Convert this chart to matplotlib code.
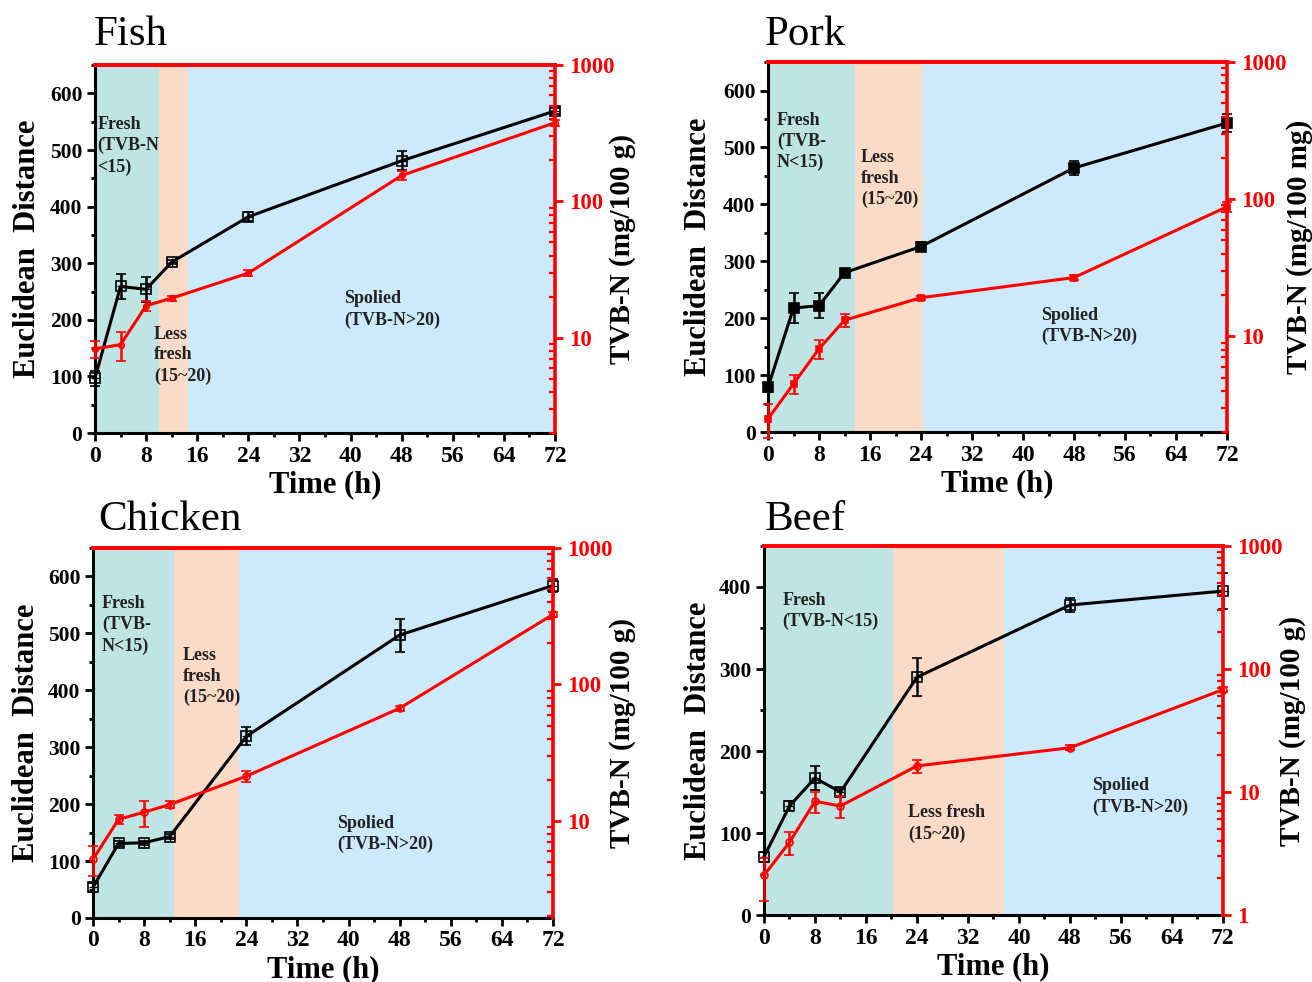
import matplotlib
matplotlib.use("Agg")
import matplotlib.pyplot as plt
from matplotlib.ticker import MultipleLocator, LogLocator, FuncFormatter, NullFormatter

plt.rcParams['font.family'] = ['Liberation Serif', 'DejaVu Serif']

# ---------------- data ----------------
time = [0, 4, 8, 12, 24, 48, 72]

fish_ed = [97, 259, 254, 302, 382, 481, 569]
fish_ed_err = [13, 22, 22, 4, 8, 17, 6]
fish_tvbn = [8.3, 8.9, 17.2, 19.5, 29.8, 155, 378]
fish_tvbn_err = [1.2, 2.2, 1.5, 0.8, 1.5, 12, 20]

pork_ed = [79, 218, 222, 280, 326, 464, 543]
pork_ed_err = [8, 27, 22, 5, 8, 12, 15]
pork_tvbn = [2.5, 4.5, 8.1, 13.1, 19.1, 26.8, 88]
pork_tvbn_err = [0.7, 0.7, 1.3, 1.5, 0.6, 1.0, 8]

chicken_ed = [54, 131, 132, 143, 319, 497, 584]
chicken_ed_err = [8, 5, 4, 5, 16, 29, 12]
chicken_tvbn = [5.25, 10.3, 11.6, 13.2, 21.3, 67, 326]
chicken_tvbn_err = [1.3, 0.8, 2.5, 0.8, 2.0, 3.0, 15]

beef_ed = [71, 133, 167, 150, 290, 378, 395]
beef_ed_err = [6, 6, 15, 5, 23, 8, 22]
beef_tvbn = [2.1, 3.9, 8.4, 7.7, 16.3, 22.9, 68]
beef_tvbn_err = [0.8, 0.8, 1.6, 1.5, 2.0, 1.0, 3.0]

# freshness stage boundaries (h)
fish_stages = [0, 10, 14.6, 72]
pork_stages = [0, 13.7, 24.3, 72]
chicken_stages = [0, 12.6, 22.8, 72]
beef_stages = [0, 20.2, 37.6, 72]

stage_colors = ['#bee4e4', '#f9dbc7', '#cceafb']
TXT = '#222222'
RED = '#ff0000'

fig = plt.figure(figsize=(13.12, 9.82), dpi=100)


def panel(rect, title, title_xy, ed, ed_err, tv, tv_err, stages, ed_max, tv_lim,
          right_label, notes, black_style, red_style, ylab_x, rlab_x):
    ax = fig.add_axes(rect)
    for i in range(3):
        ax.axvspan(stages[i], stages[i + 1], color=stage_colors[i], lw=0, zorder=0)
    ax.set_xlim(0, 72)
    ax.set_ylim(0, ed_max)

    # Euclidean distance (black)
    eb = ax.errorbar(time, ed, yerr=ed_err, color='black', lw=2.2, capsize=3.5,
                     elinewidth=1.8, capthick=1.8, marker='s', ms=black_style['ms'],
                     mfc=black_style['mfc'], mec='black', mew=1.2, zorder=3)
    for line in [eb.lines[0], *eb.lines[1], *eb.lines[2]]:
        line.set_clip_on(False)
    if black_style.get('cross'):
        ax.plot(time, ed, ls='none', marker='+', ms=black_style['ms'] - 1,
                mec='black', mew=0.9, zorder=4, clip_on=False)

    # TVB-N (red, log scale)
    ax2 = ax.twinx()
    ax2.set_yscale('log')
    ax2.set_ylim(*tv_lim)
    er = ax2.errorbar(time, tv, yerr=tv_err, color=RED, lw=2.2, capsize=3.5,
                      elinewidth=1.8, capthick=1.8, marker=red_style['marker'],
                      ms=red_style['ms'], mfc=red_style['mfc'], mec=RED, mew=1.2, zorder=3)
    for line in [er.lines[0], *er.lines[1], *er.lines[2]]:
        line.set_clip_on(False)

    # spines
    ax.spines['left'].set_linewidth(2.2)
    ax.spines['bottom'].set_linewidth(2.2)
    ax.spines['top'].set_color(RED)
    ax.spines['top'].set_linewidth(2.6)
    ax.spines['right'].set_visible(False)
    ax2.spines['left'].set_visible(False)
    ax2.spines['bottom'].set_visible(False)
    ax2.spines['top'].set_color(RED)
    ax2.spines['top'].set_linewidth(2.6)
    ax2.spines['right'].set_color(RED)
    ax2.spines['right'].set_linewidth(2.6)

    # ticks
    ax.xaxis.set_major_locator(MultipleLocator(8))
    ax.xaxis.set_minor_locator(MultipleLocator(4))
    ax.yaxis.set_major_locator(MultipleLocator(100))
    ax.yaxis.set_minor_locator(MultipleLocator(50))
    ax.tick_params(axis='both', which='major', direction='out', length=6, width=2, color='black')
    ax.tick_params(axis='both', which='minor', direction='out', length=3, width=2, color='black')
    ax.tick_params(axis='x', which='major', labelsize=17, pad=3)
    ax.tick_params(axis='y', which='major', labelsize=15.5, pad=3)
    ax.tick_params(top=False, right=False, which='both')
    for lab in ax.get_xticklabels() + ax.get_yticklabels():
        lab.set_fontweight('bold')

    ax2.yaxis.set_major_locator(LogLocator(base=10, numticks=10))
    ax2.yaxis.set_minor_locator(LogLocator(base=10, subs=range(2, 10), numticks=10))
    ax2.yaxis.set_major_formatter(FuncFormatter(lambda v, p: '%g' % v))
    ax2.yaxis.set_minor_formatter(NullFormatter())
    ax2.tick_params(axis='y', which='major', direction='out', length=6, width=2,
                    color=RED, labelcolor=RED, labelsize=16.5, pad=4)
    ax2.tick_params(axis='y', which='minor', direction='in', length=4, width=1.6, color=RED)
    for lab in ax2.get_yticklabels():
        lab.set_fontweight('bold')

    # labels
    ax.set_xlabel('Time (h)', fontsize=22, fontweight='bold')
    ax.xaxis.set_label_coords(0.5, -0.100)
    ax.set_ylabel('Euclidean  Distance', fontsize=22, fontweight='bold')
    ax.yaxis.set_label_coords(ylab_x, 0.5)
    ax2.set_ylabel(right_label, fontsize=21, fontweight='bold')
    ax2.yaxis.set_label_coords(rlab_x, 0.5)

    fig.text(title_xy[0], title_xy[1], title, fontsize=31, va='baseline', ha='left')

    for (x, y, s) in notes:
        ax.text(x, y, s, fontsize=13, fontweight='bold', color=TXT, va='top', ha='left',
                linespacing=1.3, zorder=2)
    return ax, ax2


hollow_cross = dict(ms=7, mfc='none', cross=True)

panel([0.0724, 0.559, 0.3506, 0.3747], 'Fish', (0.0716, 0.954),
      fish_ed, fish_ed_err, fish_tvbn, fish_tvbn_err, fish_stages, 650, (2.0, 1000),
      'TVB-N (mg/100 g)',
      [(0.4, 560, 'Fresh\n(TVB-N\n<15)'), (9.2, 190, 'Less\nfresh\n(15~20)'),
       (39, 252, 'Spolied\n(TVB-N>20)')],
      hollow_cross, dict(marker='o', ms=4, mfc='none'), -0.115, 1.117)

panel([0.5854, 0.560, 0.3498, 0.3768], 'Pork', (0.583, 0.954),
      pork_ed, pork_ed_err, pork_tvbn, pork_tvbn_err, pork_stages, 650, (2.0, 1000),
      'TVB-N (mg/100 mg)',
      [(1.4, 563, 'Fresh\n(TVB-\nN<15)'), (14.6, 497, 'Less\nfresh\n(15~20)'),
       (42.8, 220, 'Spolied\n(TVB-N>20)')],
      dict(ms=6.5, mfc='black'), dict(marker='s', ms=5, mfc=RED), -0.12, 1.128)

panel([0.0709, 0.0652, 0.3506, 0.3768], 'Chicken', (0.0747, 0.4603),
      chicken_ed, chicken_ed_err, chicken_tvbn, chicken_tvbn_err, chicken_stages, 650,
      (1.95, 1000), 'TVB-N (mg/100 g)',
      [(1.4, 567, 'Fresh\n(TVB-\nN<15)'), (14.1, 476, 'Less\nfresh\n(15~20)'),
       (38.2, 181, 'Spolied\n(TVB-N>20)')],
      hollow_cross, dict(marker='o', ms=5, mfc='none'), -0.113, 1.122)

panel([0.5823, 0.0682, 0.3498, 0.3758], 'Beef', (0.583, 0.4603),
      beef_ed, beef_ed_err, beef_tvbn, beef_tvbn_err, beef_stages, 450, (1.0, 1000),
      'TVB-N (mg/100 g)',
      [(2.9, 394, 'Fresh\n(TVB-N<15)'), (22.6, 135, 'Less fresh\n(15~20)'),
       (51.5, 168, 'Spolied\n(TVB-N>20)')],
      hollow_cross, dict(marker='o', ms=5, mfc='none'), -0.111, 1.122)

fig.savefig('out.png', dpi=100, facecolor='white')
